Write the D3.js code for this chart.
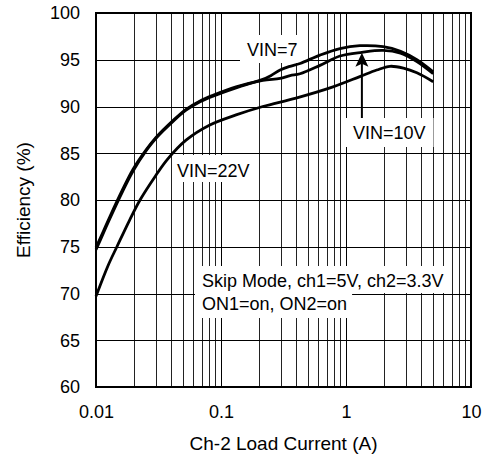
<!DOCTYPE html>
<html>
<head>
<meta charset="utf-8">
<script src="https://cdn.jsdelivr.net/npm/d3@7"></script>
<style>
body { margin: 0; background: #fff; }
text { font-family: Arial, "Liberation Sans", Helvetica, sans-serif; fill: #000; }
</style>
</head>
<body>
<svg id="svg_elem"></svg>
<script>
//define constants
const svgWidth = 491;
const svgHeight = 463;
const padLeft = 96;
const padRight = 20;
const padTop = 13;
const padBottom = 76;

//define data (load current in A, efficiency in %)
const vin7Current = [0.01, 0.0115, 0.0129, 0.0163, 0.0198, 0.0256, 0.0302, 0.0413, 0.0525, 0.068, 0.0862, 0.132, 0.216, 0.25, 0.297, 0.357, 0.429, 0.619, 0.895, 1.29, 1.98, 2.73, 3.69, 4.98];
const vin7Eff     = [74.7, 76.5, 78.0, 80.9, 83.1, 85.4, 86.6, 88.4, 89.6, 90.5, 91.1, 92.0, 92.9, 93.3, 93.9, 94.3, 94.6, 95.5, 96.2, 96.5, 96.4, 95.9, 95.0, 93.7];
const vin10Current = [0.01, 0.0115, 0.0129, 0.0163, 0.0198, 0.0256, 0.0302, 0.0413, 0.0525, 0.068, 0.0862, 0.132, 0.216, 0.297, 0.357, 0.429, 0.619, 0.895, 1.34, 1.98, 2.73, 3.69, 4.98];
const vin10Eff     = [74.9, 76.7, 78.2, 81.1, 83.3, 85.5, 86.7, 88.5, 89.7, 90.6, 91.2, 92.1, 92.8, 93.0, 93.3, 93.5, 94.4, 95.4, 95.8, 96.0, 95.7, 94.8, 93.5];
const vin22Current = [0.01, 0.0125, 0.0147, 0.0185, 0.0225, 0.03, 0.037, 0.0525, 0.0807, 0.132, 0.216, 0.398, 0.787, 1.29, 1.76, 2.25, 2.88, 3.69, 4.98];
const vin22Eff     = [69.7, 73.0, 75.0, 77.8, 80.0, 82.6, 84.3, 86.4, 88.0, 89.1, 90.0, 90.9, 92.1, 93.2, 93.9, 94.3, 94.1, 93.6, 92.65];

//tick labels
const xTicks = [0.01, 0.1, 1, 10];
const xTickLabels = ['0.01', '0.1', '1', '10'];
const yTicks = [60, 65, 70, 75, 80, 85, 90, 95, 100];

//configure svg window
var svg = d3.select('#svg_elem')
	.attr('width', svgWidth)
	.attr('height', svgHeight);

//define scales
var xScale = d3.scaleLog()
	.domain([0.01, 10])
	.range([padLeft, svgWidth - padRight]);
var yScale = d3.scaleLinear()
	.domain([60, 100])
	.range([svgHeight - padBottom, padTop]);

//minor grid values 2..9 per decade
var gridX = [];
[0.01, 0.1, 1].forEach(dec => {
	for (let k = 2; k <= 9; k++) gridX.push(dec * k);
});

//grid lines
var grid = svg.append('g');
grid.selectAll('.vgrid')
	.data(gridX)
	.enter()
	.append('line')
	.attr('x1', d => Math.round(xScale(d)) + 0.5)
	.attr('x2', d => Math.round(xScale(d)) + 0.5)
	.attr('y1', yScale(100))
	.attr('y2', yScale(60))
	.attr('stroke', '#222')
	.attr('stroke-width', 1);
grid.selectAll('.vmajor')
	.data(xTicks)
	.enter()
	.append('line')
	.attr('x1', d => Math.round(xScale(d)) + 0.5)
	.attr('x2', d => Math.round(xScale(d)) + 0.5)
	.attr('y1', yScale(100))
	.attr('y2', yScale(60))
	.attr('stroke', '#000')
	.attr('stroke-width', 1);
grid.selectAll('.hgrid')
	.data(yTicks)
	.enter()
	.append('line')
	.attr('x1', xScale(0.01))
	.attr('x2', xScale(10))
	.attr('y1', d => Math.round(yScale(d)) + 0.5)
	.attr('y2', d => Math.round(yScale(d)) + 0.5)
	.attr('stroke', '#000')
	.attr('stroke-width', 1);

//axes (labels only, no tick marks)
var xAxis = d3.axisBottom(xScale)
	.tickValues(xTicks)
	.tickFormat((d, i) => xTickLabels[i])
	.tickSize(0)
	.tickPadding(18);
var yAxis = d3.axisLeft(yScale)
	.tickValues(yTicks)
	.tickSize(0)
	.tickPadding(16);
var gx = svg.append('g')
	.attr('transform', `translate(0, ${svgHeight - padBottom})`)
	.call(xAxis);
var gy = svg.append('g')
	.attr('transform', `translate(${padLeft}, 0)`)
	.call(yAxis);
[gx, gy].forEach(g => {
	g.select('.domain').remove();
	g.selectAll('text')
		.style('font-size', '18px')
		.style('font-family', 'Arial, "Liberation Sans", sans-serif');
});

//axis titles
svg.append('text')
	.text('Ch-2 Load Current (A)')
	.attr('x', (padLeft + svgWidth - padRight) / 2)
	.attr('y', 450)
	.attr('text-anchor', 'middle')
	.style('font-size', '19px');
svg.append('text')
	.text('Efficiency (%)')
	.attr('transform', `translate(30, ${(padTop + svgHeight - padBottom) / 2}) rotate(-90)`)
	.attr('text-anchor', 'middle')
	.style('font-size', '19px');

//layers: white label boxes, curves, label text
var boxLayer = svg.append('g');
var curves = svg.append('g');
var textLayer = svg.append('g');

//label with white background hiding the grid
function addLabel(txt, x, y, padL, padR, padT, padB) {
	var t = textLayer.append('text')
		.text(txt)
		.attr('x', x)
		.attr('y', y)
		.style('font-size', '18px');
	var bb = t.node().getBBox();
	boxLayer.append('rect')
		.attr('x', bb.x - padL)
		.attr('y', y - padT)
		.attr('width', bb.width + padL + padR)
		.attr('height', padT + padB)
		.attr('fill', '#fff');
	return t;
}

//curves
var line = d3.line()
	.x(d => xScale(d[0]))
	.y(d => yScale(d[1]))
	.curve(d3.curveCatmullRom.alpha(0.5));

var series = [
	{x: vin22Current, y: vin22Eff},
	{x: vin10Current, y: vin10Eff},
	{x: vin7Current, y: vin7Eff}
];
series.forEach(s => {
	curves.append('path')
		.datum(s.x.map((v, i) => [v, s.y[i]]))
		.attr('d', line)
		.attr('fill', 'none')
		.attr('stroke', '#000')
		.attr('stroke-width', 2.8)
		.attr('stroke-linejoin', 'round');
});

//labels
addLabel('VIN=7', 247, 56, 7, 9, 21, 7);
addLabel('VIN=22V', 177, 177, 3, 4, 22, 5);
addLabel('VIN=10V', 353, 139, 8, 8, 21, 8);
addLabel('Skip Mode, ch1=5V, ch2=3.3V', 202, 287, 7, 3, 21, 6);
addLabel('ON1=on, ON2=on', 202, 310, 7, 5, 17, 8);

//arrow pointing at VIN=10 curve
var arrowX = xScale(1.34);
var tipY = yScale(95.75);
svg.append('line')
	.attr('x1', arrowX)
	.attr('x2', arrowX)
	.attr('y1', 118)
	.attr('y2', tipY + 8)
	.attr('stroke', '#000')
	.attr('stroke-width', 2);
svg.append('path')
	.attr('d', `M${arrowX},${tipY} L${arrowX - 6.5},${tipY + 14} L${arrowX},${tipY + 11} L${arrowX + 6.5},${tipY + 14} Z`)
	.attr('fill', '#000');

//frame
svg.append('rect')
	.attr('x', xScale(0.01))
	.attr('y', yScale(100))
	.attr('width', xScale(10) - xScale(0.01))
	.attr('height', yScale(60) - yScale(100))
	.attr('fill', 'none')
	.attr('stroke', '#000')
	.attr('stroke-width', 2);
</script>
</body>
</html>
